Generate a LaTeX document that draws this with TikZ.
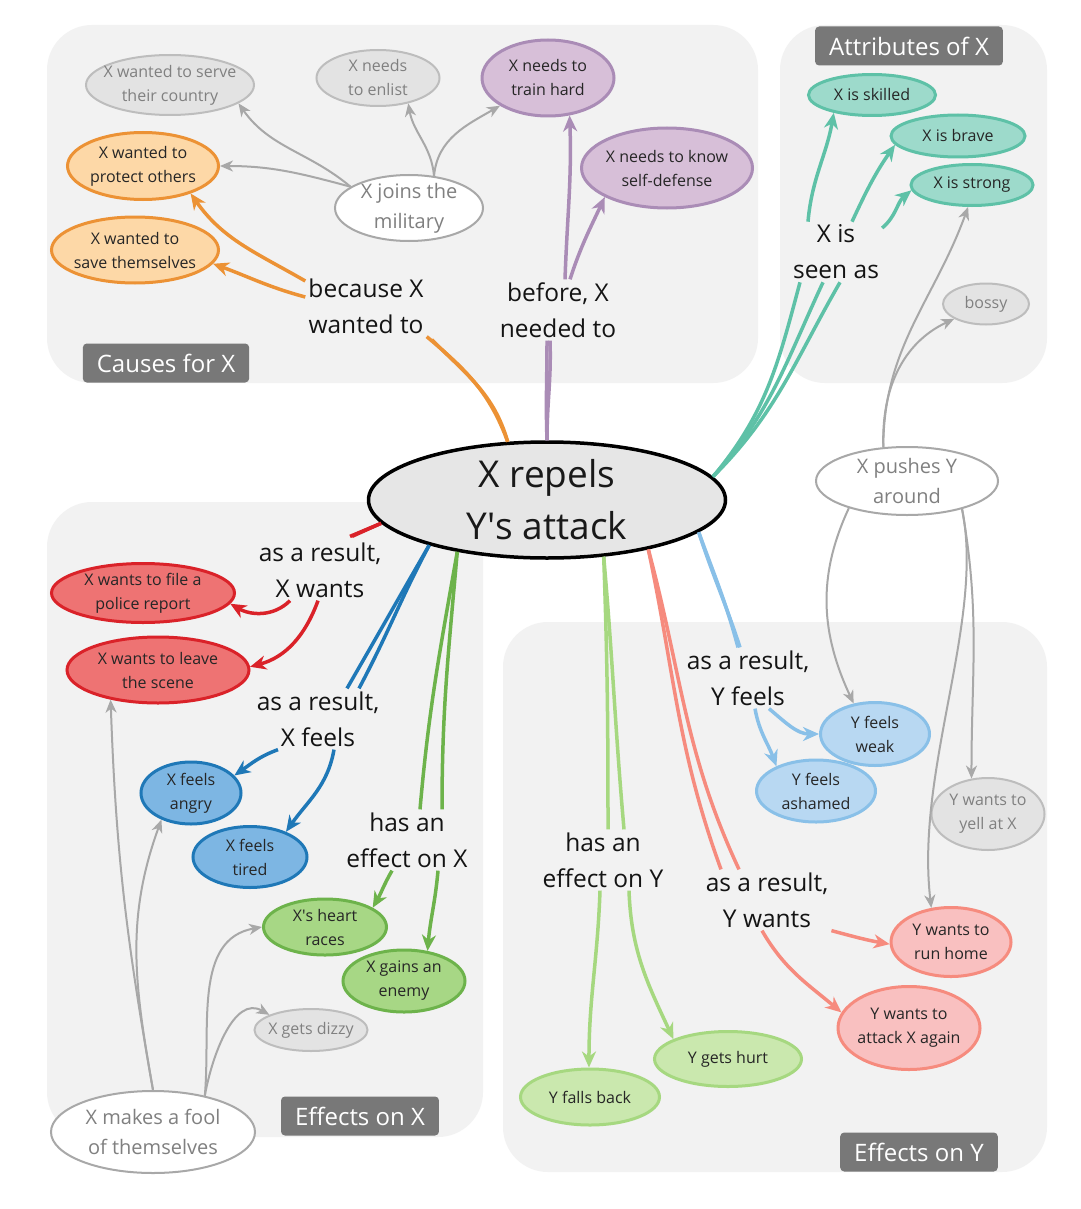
\documentclass[tikz,border=0pt]{standalone}
\usepackage{fontspec}
\setmainfont{Open Sans}
\usetikzlibrary{arrows.meta,shapes.geometric,positioning,calc}

\definecolor{panel}{HTML}{F2F2F2}
\definecolor{tagGray}{HTML}{787878}
\definecolor{linkGray}{HTML}{A8A8A8}
\definecolor{coreFill}{HTML}{E6E6E6}
\definecolor{cause}{HTML}{EC9235}\definecolor{causeFill}{HTML}{FDD8A7}
\definecolor{need}{HTML}{AA8CB6}\definecolor{needFill}{HTML}{D7BFD8}
\definecolor{seen}{HTML}{5EC1A7}\definecolor{seenFill}{HTML}{9DDACB}
\definecolor{xWant}{HTML}{DA2229}\definecolor{xWantFill}{HTML}{EE7373}
\definecolor{xFeel}{HTML}{1F78B7}\definecolor{xFeelFill}{HTML}{7DB6E3}
\definecolor{xEff}{HTML}{6DB34B}\definecolor{xEffFill}{HTML}{A7D785}
\definecolor{yEff}{HTML}{A6D880}\definecolor{yEffFill}{HTML}{CAE8AE}
\definecolor{yFeel}{HTML}{89C0E8}\definecolor{yFeelFill}{HTML}{B8D8F2}
\definecolor{yWant}{HTML}{F68B7E}\definecolor{yWantFill}{HTML}{F9C0C0}
\definecolor{fadedFill}{HTML}{E3E3E3}\definecolor{fadedLine}{HTML}{BDBDBD}
\definecolor{softText}{HTML}{808080}

\begin{document}
\begin{tikzpicture}[x=1pt,y=-1pt,
  every node/.style={inner sep=0pt, align=center},
  dims/.style 2 args={minimum width=#1pt, minimum height=#2pt},
  bubble/.style={ellipse, inner xsep=-25pt, inner ysep=-10pt, font=\fontsize{16}{24}\selectfont, text=black!85},
  tone/.style={bubble, draw=#1, fill=#1Fill, line width=3pt},
  faded/.style={bubble, draw=fadedLine, fill=fadedFill, line width=2pt, text=softText},
  plain/.style={bubble, draw=linkGray, fill=white, line width=2pt, text=softText, font=\fontsize{20}{30}\selectfont},
  rlabel/.style={font=\fontsize{24.5}{36}\selectfont, inner sep=3pt, text=black!92},
  tag/.style={fill=tagGray, text=white, font=\fontsize{24}{26}\selectfont, rounded corners=4pt, minimum height=39pt, inner xsep=14pt},
  relline/.style={draw=#1, line width=3.5pt},
  relarrow/.style={relline=#1, -{Stealth[length=16pt,width=14pt,inset=5pt]}},
  link/.style={draw=linkGray, line width=2pt, -{Stealth[length=13pt,width=11pt,inset=4pt]}}]

\fill[white] (0,0) rectangle (1080,1209);
\useasboundingbox (0,0) rectangle (1080,1209);
\foreach \x/\y/\X/\Y in {47/25/758/383, 780/25/1047/383, 47/502/483/1137, 503/622/1047/1172}
  \fill[panel, rounded corners=45pt] (\x,\y) rectangle (\X,\Y);

\node[tag] (causesTag) at (166,363) {Causes for X};
\node[tag] (attrTag) at (909,46) {Attributes of X};
\node[tag] (effXTag) at (360,1116) {Effects on X};
\node[tag] (effYTag) at (919,1152) {Effects on Y};

\node[ellipse, draw=black, line width=3.5pt, fill=coreFill, inner xsep=-25pt, inner ysep=-10pt,
  dims={357}{116}, font=\fontsize{37}{52}\selectfont, text=black!90] (core) at (547,500) {X repels\\Y\textquotesingle s attack};

\node[tone=cause, dims={151}{67}] (protOth) at (143,166) {X wanted to\\protect others};
\node[tone=cause, dims={167}{66}] (saveThem) at (135,250) {X wanted to\\save themselves};
\node[faded, dims={168}{60}] (serve) at (170,85) {X wanted to serve\\their country};
\node[faded, dims={123}{56}] (enlist) at (378,78) {X needs\\to enlist};
\node[tone=need, dims={132}{76}] (train) at (548,78) {X needs to\\train hard};
\node[tone=need, dims={171}{80}] (selfDef) at (667,168) {X needs to know\\self-defense};
\node[plain, dims={148}{66}] (joins) at (409,208) {X joins the\\military};

\node[tone=seen, dims={127}{41}] (skilled) at (872,95) {X is skilled};
\node[tone=seen, dims={134}{42}] (brave) at (958,136) {X is brave};
\node[tone=seen, dims={122}{41}] (strong) at (972,185) {X is strong};
\node[faded, dims={86}{41}] (bossy) at (986,304) {bossy};
\node[plain, dims={182}{68}] (pushes) at (907,481) {X pushes Y\\around};

\node[tone=xWant, dims={183}{59}] (police) at (143,593) {X wants to file a\\police report};
\node[tone=xWant, dims={182}{66}] (leave) at (158,670) {X wants to leave\\the scene};
\node[tone=xFeel, dims={100}{62}] (angry) at (191,793) {X feels\\angry};
\node[tone=xFeel, dims={114}{61}] (tired) at (250,857) {X feels\\tired};
\node[tone=xEff, dims={123}{56}] (heart) at (325,927) {X\textquotesingle s heart\\races};
\node[tone=xEff, dims={122}{62}] (gains) at (404,981) {X gains an\\enemy};
\node[faded, dims={113}{42}] (dizzy) at (311,1030) {X gets dizzy};
\node[plain, dims={204}{82}] (fool) at (153,1132) {X makes a fool\\of themselves};

\node[tone=yFeel, dims={109}{63}] (weak) at (875,734) {Y feels\\weak};
\node[tone=yFeel, dims={119}{62}] (ashamed) at (816,791) {Y feels\\ashamed};
\node[faded, dims={113}{72}] (yell) at (988,814) {Y wants to\\yell at X};
\node[tone=yWant, dims={120}{69}] (runHome) at (951,942) {Y wants to\\run home};
\node[tone=yWant, dims={142}{83}] (attack) at (909,1028) {Y wants to\\attack X again};
\node[tone=yEff, dims={147}{55}] (hurt) at (728,1059) {Y gets hurt};
\node[tone=yEff, dims={139}{56}] (fallsBack) at (590,1097) {Y falls back};

\node[rlabel] (causeLbl) at (366,306) {because X\\wanted to};
\node[rlabel] (needLbl) at (558,310) {before, X\\needed to};
\node[rlabel] (seenLbl) at (836,252) {X is\\seen as};
\node[rlabel] (xWantLbl) at (320,570) {as a result,\\X wants};
\node[rlabel] (xFeelLbl) at (318,719) {as a result,\\X feels};
\node[rlabel] (xEffLbl) at (407,840) {has an\\effect on X};
\node[rlabel] (yEffLbl) at (603,860) {has an\\effect on Y};
\node[rlabel] (yFeelLbl) at (748,678) {as a result,\\Y feels};
\node[rlabel] (yWantLbl) at (767,900) {as a result,\\Y wants};

\draw[relline=cause] (core.124) to[out=110,in=-40] (causeLbl.south east);
\draw[relline=cause] (core.124) to[out=106,in=-45] ([xshift=5pt,yshift=-3pt]causeLbl.south east);
\draw[relarrow=cause] ([yshift=25pt]causeLbl.west) to[out=150,in=-55] (protOth.330);
\draw[relarrow=cause] ([yshift=9pt]causeLbl.west) to[out=165,in=-20] (saveThem.350);

\draw[relline=need] (core.90) to[out=92,in=-90] ([xshift=-11pt]needLbl.south);
\draw[relline=need] (core.90) to[out=90,in=-88] ([xshift=-8pt]needLbl.south);
\draw[relarrow=need] ([xshift=7pt]needLbl.north) to[out=88,in=-88] (train.300);
\draw[relarrow=need] ([xshift=12pt]needLbl.north) to[out=72,in=-115] (selfDef.205);

\draw[relline=seen] (core.8) to[out=50,in=-105] ([xshift=-36pt]seenLbl.south);
\draw[relline=seen] (core.8) to[out=48,in=-115] ([xshift=-13pt]seenLbl.south);
\draw[relline=seen] (core.8) to[out=45,in=-120] ([xshift=4pt]seenLbl.south);
\draw[relarrow=seen] ([xshift=-28pt]seenLbl.north) to[out=85,in=-100] (skilled.205);
\draw[relarrow=seen] ([xshift=16pt]seenLbl.north) to[out=65,in=-125] (brave.188);
\draw[relarrow=seen] ([yshift=24pt]seenLbl.east) to[out=40,in=-140] (strong.185);

\draw[relline=xWant] (core.188) -- ([xshift=30pt,yshift=3pt]xWantLbl.north);
\draw[relline=xWant] (core.188) -- ([xshift=32pt,yshift=3pt]xWantLbl.north);
\draw[relarrow=xWant] ([xshift=-30pt]xWantLbl.south) to[out=225,in=-30] (police.353);
\draw[relarrow=xWant] ([xshift=-2pt]xWantLbl.south) to[out=250,in=15] (leave.2);

\draw[relline=xFeel] (core.201) to[out=240,in=60] ([xshift=29pt]xFeelLbl.north);
\draw[relline=xFeel] (core.201) to[out=242,in=62] ([xshift=41pt]xFeelLbl.north);
\draw[relarrow=xFeel] ([xshift=-40pt]xFeelLbl.south) to[out=200,in=35] (angry.22);
\draw[relarrow=xFeel] ([xshift=16pt]xFeelLbl.south) to[out=260,in=55] (tired.35);

\draw[relline=xEff] (core.210) to[out=260,in=85] ([xshift=13pt]xEffLbl.north);
\draw[relline=xEff] (core.210) to[out=265,in=90] ([xshift=35pt]xEffLbl.north);
\draw[relarrow=xEff] ([xshift=-15pt]xEffLbl.south) to[out=240,in=60] (heart.22);
\draw[relarrow=xEff] ([xshift=31pt]xEffLbl.south) to[out=265,in=85] (gains.52);

\draw[relline=yEff] (core.315) to[out=-88,in=90] ([xshift=5pt]yEffLbl.north);
\draw[relline=yEff] (core.315) to[out=-85,in=95] ([xshift=21pt]yEffLbl.north);
\draw[relarrow=yEff] ([xshift=-3pt]yEffLbl.south) to[out=-92,in=90] (fallsBack.92);
\draw[relarrow=yEff] ([xshift=26pt]yEffLbl.south) to[out=-88,in=115] (hurt.160);

\draw[relline=yWant] (core.334) to[out=-78,in=110] ([xshift=-46pt]yWantLbl.north);
\draw[relline=yWant] (core.334) to[out=-75,in=115] ([xshift=-28pt]yWantLbl.north);
\draw[relarrow=yWant] (yWantLbl.south east) to[out=-15,in=170] (runHome.182);
\draw[relarrow=yWant] ([xshift=-5pt]yWantLbl.south) to[out=-60,in=140] (attack.167);

\draw[relline=yFeel] (core.348) to[out=-70,in=105] ([xshift=-10pt]yFeelLbl.north);
\draw[relline=yFeel] (core.348) to[out=-72,in=108] ([xshift=-8pt]yFeelLbl.north);
\draw[relarrow=yFeel] ([xshift=7pt]yFeelLbl.south) to[out=-80,in=110] (ashamed.148);
\draw[relarrow=yFeel] ([xshift=21pt]yFeelLbl.south) to[out=-40,in=180] (weak.180);

\draw[link] (joins.160) to[out=140,in=-55] (serve.345);
\draw[link] (joins.160) to[out=165,in=0] (protOth.0);
\draw[link] (joins.52) to[out=95,in=-80] (enlist.320);
\draw[link] (joins.52) to[out=85,in=210] (train.210);
\draw[link] (pushes.125) to[out=92,in=205] (bossy.205);
\draw[link] (pushes.125) to[out=90,in=-110] (strong.260);
\draw[link] (pushes.205) to[out=245,in=115] (weak.125);
\draw[link] (pushes.333) to[out=-80,in=90] (yell.115);
\draw[link] (pushes.333) .. controls (985,620) and (915,770) .. (runHome.120);
\draw[link] (fool.90) to[out=100,in=-88] (leave.212);
\draw[link] (fool.90) to[out=100,in=-110] (angry.222);
\draw[link] (fool.35) to[out=85,in=190] (heart.180);
\draw[link] (fool.35) to[out=80,in=150] (dizzy.160);
\end{tikzpicture}
\end{document}
